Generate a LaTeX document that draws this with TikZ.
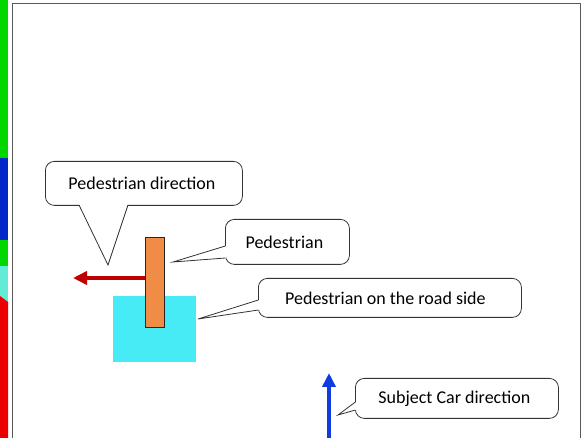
\documentclass[tikz,border=0pt]{standalone}
\usepackage{fontspec}
\setmainfont{Carlito}
\usetikzlibrary{arrows.meta}
\definecolor{stripgreen}{RGB}{0,215,0}
\definecolor{stripblue}{RGB}{0,40,200}
\definecolor{stripcyan}{RGB}{100,235,215}
\definecolor{stripred}{RGB}{235,0,0}
\definecolor{pedorange}{RGB}{240,140,70}
\definecolor{roadcyan}{RGB}{70,235,245}
\definecolor{arrowred}{RGB}{192,0,0}
\definecolor{arrowblue}{RGB}{15,60,225}
\tikzset{
  callout/.style={draw=black!80, line width=0.8pt, fill=white, rounded corners=9pt,
    font=\fontsize{18}{20}\selectfont, inner sep=0pt, anchor=north west},
  pointerfill/.style={fill=white},
  pointerline/.style={draw=black!80, line width=0.8pt},
  framebox/.style={draw=black!65, line width=1.3pt},
  dirarrow/.style={line width=3.5pt, -{Triangle[length=14pt,width=13pt]}},
}
\begin{document}
\begin{tikzpicture}[x=1pt,y=-1pt]
\useasboundingbox (0,0) rectangle (587,438);
% left colour strip
\fill[stripgreen] (0,0) rectangle (8,158);
\fill[stripblue] (0,158) rectangle (8,240);
\fill[stripgreen] (0,240) rectangle (8,266);
\fill[stripcyan] (0,266) rectangle (8,302);
\fill[stripred] (0,296) -- (8,302) -- (8,438) -- (0,438) -- cycle;
% frame
\draw[framebox] (12.5,440) -- (12.5,3.5) -- (580.5,3.5) -- (580.5,440);
% road side and pedestrian
\node[fill=roadcyan, minimum width=83pt, minimum height=66pt, inner sep=0pt, anchor=north west] (road) at (113,296) {};
\node[fill=pedorange, draw=black!85, line width=1pt, minimum width=19pt, minimum height=90pt, inner sep=0pt, anchor=north west] (ped) at (145,237) {};
% direction arrows
\coordinate (pedtip) at (73,278);
\draw[dirarrow, arrowred] (ped.west |- pedtip) -- (pedtip);
\coordinate (carstart) at (329,440);
\coordinate (cartip) at (329,373);
\draw[dirarrow, arrowblue] (carstart) -- (cartip);
% callout: Pedestrian direction
\node[callout, minimum width=197pt, minimum height=44pt] (cdir) at (45,161) {Pedestrian direction\hspace*{4pt}};
\coordinate (cdirtip) at (108,265);
\fill[pointerfill] (79,204) -- (cdirtip) -- (128,204) -- cycle;
\draw[pointerline] (79,205) -- (cdirtip) -- (128,205);
% callout: Pedestrian
\node[callout, minimum width=124pt, minimum height=45pt] (cped) at (225,219) {Pedestrian\hspace*{6pt}};
\coordinate (cpedtip) at (173,262);
\fill[pointerfill] (226,246) -- (cpedtip) -- (226,258) -- cycle;
\draw[pointerline] (225.4,246) -- (cpedtip) -- (225.4,258);
% callout: Pedestrian on the road side
\node[callout, minimum width=263pt, minimum height=39pt] (croad) at (258,278) {Pedestrian on the road side\hspace*{9pt}};
\coordinate (croadtip) at (198,319);
\fill[pointerfill] (259,300) -- (croadtip) -- (259,310) -- cycle;
\draw[pointerline] (258.4,300) -- (croadtip) -- (258.4,310);
% callout: Subject Car direction
\node[callout, minimum width=203pt, minimum height=40pt] (ccar) at (355,378) {Subject Car direction\hspace*{5pt}};
\coordinate (ccartip) at (338,415);
\fill[pointerfill] (356,402) -- (ccartip) -- (356,410) -- cycle;
\draw[pointerline] (355.4,402) -- (ccartip) -- (355.4,410);
\end{tikzpicture}
\end{document}
